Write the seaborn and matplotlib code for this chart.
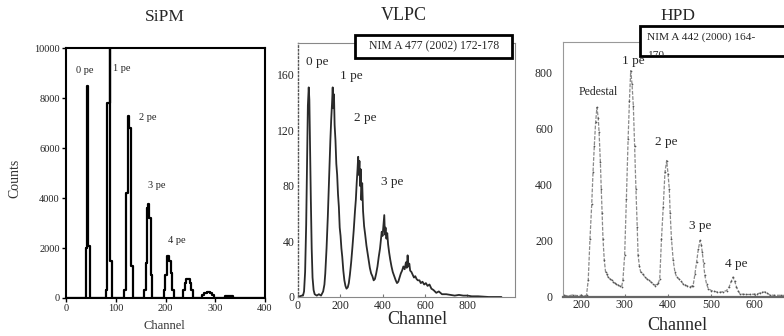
import numpy as np
import pandas as pd
import matplotlib
matplotlib.use("Agg")
import matplotlib.pyplot as plt
import seaborn as sns
from matplotlib.patches import Rectangle
from matplotlib.transforms import Bbox, TransformedBbox

# ---------------- data ----------------
# SiPM histogram (bin left edges, counts)
sipm_edges = [0, 40, 43, 44, 49, 80, 83, 88, 89, 93, 117, 120, 125, 126, 130, 134,
              156, 160, 163, 165, 167, 170, 173, 196, 199, 203, 207, 211, 214, 218,
              236, 239, 242, 249, 252, 256, 273, 277, 283, 290, 294, 297, 320, 336, 400]
sipm_counts = [0, 2000, 8500, 2100, 0, 300, 7800, 10500, 1500, 0, 300, 4200, 7300, 6800, 1300, 0,
               300, 1400, 3600, 3750, 3200, 900, 0, 300, 900, 1700, 1500, 1000, 300, 0,
               300, 600, 750, 600, 300, 0, 100, 200, 250, 200, 100, 0, 90, 0, 0]

# VLPC spectrum
vlpc_ch = [0, 10, 20, 25, 30, 35, 40, 44, 48, 52, 55, 58, 62, 66, 70, 75, 80, 90, 100, 110,
           120, 126, 130, 136, 142, 146, 150, 154, 158, 162, 165, 168, 171, 174, 178, 182,
           186, 190, 194, 198, 202, 206, 210, 215, 220, 225, 230, 236, 241, 246, 252, 258,
           264, 270, 274, 278, 282, 285, 288, 291, 294, 297, 300, 304, 308, 313, 318, 324,
           329, 335, 340, 346, 352, 358, 364, 370, 376, 382, 388, 392, 396, 400, 404, 408,
           411, 414, 418, 422, 426, 431, 436, 442, 448, 455, 462, 468, 474, 480, 486, 492,
           498, 504, 510, 514, 518, 522, 526, 530, 536, 542, 548, 554, 560, 566, 574, 580,
           588, 596, 604, 612, 621, 630, 640, 653, 665, 680, 700, 720, 740, 760, 780, 800,
           820, 850, 900, 960]
vlpc_counts = [0, 0.5, 1, 1, 4, 18, 52, 95, 138, 151, 142, 110, 70, 35, 14, 5, 2, 1, 2, 1,
               4, 9, 17, 35, 58, 77, 96, 113, 128, 140, 151, 136, 146, 124, 113, 96,
               88, 74, 65, 50, 44, 35, 29, 19, 12, 8, 6, 7, 10, 16, 25, 36,
               48, 62, 70, 82, 92, 101, 88, 98, 80, 92, 70, 82, 62, 51, 45, 37,
               32, 26, 21, 17, 15, 12, 13, 17, 22, 29, 35, 41, 47, 44, 52, 59,
               45, 50, 42, 46, 38, 32, 27, 22, 18, 15, 12, 10, 11, 14, 17, 19,
               22, 20, 25, 21, 30, 22, 24, 19, 18, 16, 14, 15, 13, 12, 12, 10,
               11, 9, 10, 8, 9, 6, 5, 3, 4, 2, 2, 1.5, 1, 1.5, 1, 1,
               0.5, 0.5, 0, 0]

# HPD spectrum
hpd_ch = [160, 170, 180, 190, 200, 206, 212, 216, 220, 224, 227, 230, 233, 236, 239, 241,
          244, 246, 248, 250, 253, 256, 259, 262, 266, 270, 274, 278, 281, 285, 289, 293,
          296, 300, 304, 308, 311, 314, 317, 320, 323, 326, 329, 331, 334, 337, 342, 346,
          351, 356, 361, 366, 370, 374, 378, 381, 385, 389, 393, 397, 400, 403, 405, 408,
          412, 416, 420, 425, 430, 435, 440, 445, 450, 455, 458, 462, 466, 470, 474, 477,
          479, 482, 485, 489, 493, 500, 506, 512, 520, 528, 535, 541, 546, 550, 554, 558,
          562, 566, 572, 580, 589, 598, 606, 612, 618, 624, 629, 635, 645, 660, 680]
hpd_counts = [5, 3, 6, 4, 5, 3, 5, 60, 207, 330, 445, 540, 624, 677, 640, 588,
              480, 386, 300, 207, 130, 88, 80, 70, 64, 60, 52, 48, 46, 42, 38, 35,
              60, 148, 350, 564, 700, 808, 760, 683, 540, 386, 250, 148, 110, 88, 80, 72,
              64, 58, 52, 46, 40, 45, 50, 64, 207, 320, 445, 487, 440, 386, 300, 207,
              130, 88, 70, 64, 55, 46, 42, 38, 35, 38, 40, 80, 124, 170, 201, 185,
              160, 120, 76, 45, 29, 22, 20, 17, 16, 18, 22, 35, 55, 70, 55, 35,
              20, 11, 9, 8, 8, 9, 10, 13, 16, 17, 13, 6, 5, 5, 4]

sipm_xticks = [0, 100, 200, 300, 400]
sipm_yticks = [0, 2000, 4000, 6000, 8000, 10000]
vlpc_xticks = [0, 200, 400, 600, 800]
vlpc_yticks = [0, 40, 80, 120, 160]
hpd_xticks = [200, 300, 400, 500, 600]
hpd_yticks = [0, 200, 400, 600, 800]

sipm_labels = [("0 pe", 38, 9090), ("1 pe", 112, 9190), ("2 pe", 165, 7230),
               ("3 pe", 182, 4520), ("4 pe", 222, 2320)]
vlpc_labels = [("0 pe", 90, 169), ("1 pe", 251, 159), ("2 pe", 318, 129), ("3 pe", 446, 83)]
hpd_labels = [("Pedestal", 238, 732), ("1 pe", 319, 843), ("2 pe", 397, 554),
              ("3 pe", 474, 254), ("4 pe", 557, 118)]

# ---------------- style ----------------
sns.set_theme(style="white")
plt.rcParams["font.family"] = ["Liberation Serif", "DejaVu Serif"]
plt.rcParams["axes.linewidth"] = 1.0

fig = plt.figure(figsize=(7.84, 3.36), dpi=100)
W, H = 784.0, 336.0

def fx(px):
    return px / W

def fy(py):
    return 1 - py / H

# ---------------- SiPM ----------------
ax1 = fig.add_axes([0.0842, 0.1131, 0.2538, 0.744])
df1 = pd.DataFrame({"ch": sipm_edges, "n": sipm_counts})
sns.lineplot(data=df1, x="ch", y="n", ax=ax1, color="black", lw=1.6,
             drawstyle="steps-post", estimator=None)
ax1.set_xlim(0, 400)
ax1.set_ylim(0, 10000)
ax1.set_xticks(sipm_xticks)
ax1.set_yticks(sipm_yticks)
ax1.set_yticks(np.arange(1000, 10000, 2000), minor=True)
ax1.tick_params(axis="both", which="major", labelsize=7.5, length=3, width=1,
                direction="out", color="black", pad=1.5, labelcolor="#222")
ax1.tick_params(axis="y", which="minor", length=2, width=1.5, direction="out")
ax1.tick_params(left=True, bottom=True)
for s in ax1.spines.values():
    s.set_color("black")
    s.set_linewidth(1.5)
ax1.set_xlabel("")
ax1.set_ylabel("")
for t, x, y in sipm_labels:
    ax1.text(x, y, t, fontsize=7.5, ha="center", va="center")
fig.text(fx(165), fy(17), "SiPM", fontsize=12.5, ha="center", va="center")
fig.text(fx(164), fy(326), "Channel", fontsize=9, ha="center", va="center", color="#333")
fig.text(fx(15), fy(178), "Counts", fontsize=10, ha="center", va="center",
         rotation=90, color="#333")

# ---------------- VLPC ----------------
ax2 = fig.add_axes([0.3797, 0.1161, 0.2772, 0.756])
df2 = pd.DataFrame({"ch": vlpc_ch, "n": vlpc_counts})
sns.lineplot(data=df2, x="ch", y="n", ax=ax2, color="#2a2a2a", lw=1.3, estimator=None)
ax2.set_xlim(0, 1024)
ax2.set_ylim(0, 183)
ax2.set_xticks(vlpc_xticks)
ax2.set_yticks(vlpc_yticks)
ax2.set_xticks(np.arange(0, 1000, 100), minor=True)
ax2.tick_params(axis="both", which="major", labelsize=8.5, length=2, width=0.8,
                direction="in", color="#777", pad=2)
ax2.tick_params(axis="x", which="minor", length=2, width=0.8, direction="in", color="#777")
ax2.tick_params(left=False, bottom=True)
for k, s in ax2.spines.items():
    s.set_color("#888")
    s.set_linewidth(0.8)
ax2.spines["left"].set_linestyle(":")
ax2.spines["left"].set_color("#555")
ax2.spines["left"].set_linewidth(1.0)
ax2.set_xlabel("")
ax2.set_ylabel("")
for t, x, y in vlpc_labels:
    ax2.text(x, y, t, fontsize=9.5, ha="center", va="center")
fig.text(fx(404), fy(15), "VLPC", fontsize=13, ha="center", va="center")
fig.text(fx(417), fy(320), "Channel", fontsize=13, ha="center", va="center")

# ---------------- HPD ----------------
ax3 = fig.add_axes([0.7177, 0.117, 0.29, 0.759])
df3 = pd.DataFrame({"ch": hpd_ch, "n": hpd_counts})
sns.lineplot(data=df3, x="ch", y="n", ax=ax3, color="#8a8a8a", lw=0.9, estimator=None,
             linestyle=(0, (3, 1.2)), marker=".", markersize=2.5, markeredgewidth=0,
             markerfacecolor="#555")
ax3.set_xlim(157, 681.6)
ax3.set_ylim(0, 912)
ax3.set_xticks(hpd_xticks)
ax3.set_yticks(hpd_yticks)
ax3.set_xticks(np.arange(160, 680, 20), minor=True)
ax3.tick_params(axis="both", which="major", labelsize=8.5, length=2, width=0.8,
                direction="in", color="#777", pad=2)
ax3.tick_params(axis="y", which="major", pad=7)
ax3.tick_params(axis="x", which="minor", length=2, width=0.8, direction="in", color="#999")
ax3.tick_params(left=False, bottom=True)
for k, s in ax3.spines.items():
    s.set_color("#999")
    s.set_linewidth(0.8)
ax3.spines["bottom"].set_color("#666")
ax3.spines["bottom"].set_linewidth(1.6)
ax3.set_xlabel("")
ax3.set_ylabel("")
for t, x, y in hpd_labels:
    ax3.text(x, y, t, fontsize=9.5 if t != "Pedestal" else 8.5, ha="center", va="center")
fig.text(fx(678), fy(16), "HPD", fontsize=12.5, ha="center", va="center")
fig.text(fx(677), fy(325), "Channel", fontsize=13, ha="center", va="center")

# ---------------- reference boxes ----------------
fig.add_artist(Rectangle((fx(355), fy(58)), (512 - 355) / W, 23 / H,
                         transform=fig.transFigure, facecolor="white",
                         edgecolor="black", lw=2.0, zorder=5))
fig.text(fx(434), fy(46.5), "NIM A 477 (2002) 172-178", fontsize=8.5,
         ha="center", va="center", zorder=6)

fig.add_artist(Rectangle((fx(640), fy(56)), (800 - 640) / W, 30 / H,
                         transform=fig.transFigure, facecolor="white",
                         edgecolor="black", lw=2.0, zorder=5))
fig.text(fx(647), fy(37), "NIM A 442 (2000) 164-", fontsize=8.2,
         ha="left", va="center", zorder=6)
t170 = fig.text(fx(647), fy(56), "170", fontsize=8.2, ha="left", va="center", zorder=6)
t170.set_clip_on(True)
t170.set_clip_box(TransformedBbox(Bbox([[fx(640), fy(56)], [fx(800), fy(26)]]),
                                  fig.transFigure))

fig.savefig("out.png", dpi=100)
